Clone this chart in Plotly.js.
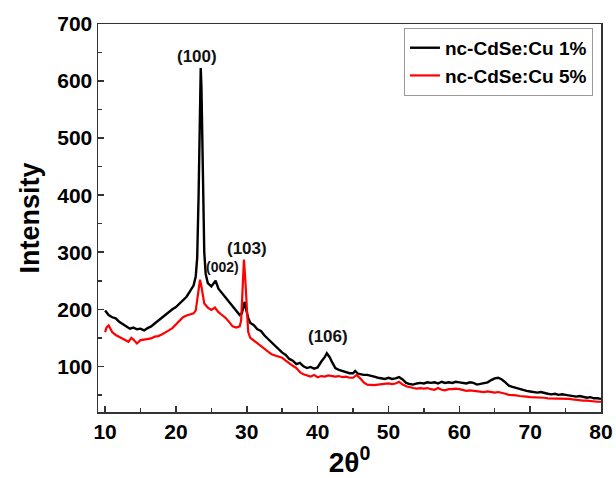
<!DOCTYPE html>
<html>
<head>
<meta charset="utf-8">
<script src="https://cdn.plot.ly/plotly-3.0.1.min.js"></script>
<style>html,body{margin:0;padding:0;background:#fff;}#chart{width:616px;height:478px;}</style>
</head>
<body>
<div id="chart"></div>
<script>
// 2theta (degrees) and intensity, nc-CdSe:Cu 1%
const cu1X = [10.0,10.5,11.0,11.5,12.0,12.5,13.0,13.5,14.0,14.5,15.0,15.5,16.0,16.5,17.0,17.5,18.0,18.5,19.0,19.5,20.0,20.5,21.0,21.5,22.0,22.5,22.8,23.0,23.2,23.4,23.5,23.6,23.8,24.0,24.2,24.5,25.0,25.3,25.6,26.0,26.5,27.0,27.5,28.0,28.5,29.0,29.3,29.5,29.7,29.9,30.2,30.5,31.0,31.5,32.0,32.5,33.0,33.5,34.0,34.5,35.0,35.5,36.0,36.5,37.0,37.5,38.0,38.5,39.0,39.5,40.0,40.5,41.0,41.3,41.7,42.1,42.5,43.0,43.5,44.0,44.5,45.0,45.3,45.7,46.0,46.5,47.0,47.5,48.0,48.5,49.0,49.5,50.0,50.5,51.0,51.5,52.0,52.5,53.0,53.5,54.0,54.5,55.0,55.5,56.0,56.5,57.0,57.5,58.0,58.5,59.0,59.5,60.0,60.5,61.0,61.5,62.0,62.5,63.0,63.5,64.0,64.5,65.0,65.5,66.0,66.5,67.0,67.5,68.0,68.5,69.0,69.5,70.0,70.5,71.0,71.5,72.0,72.5,73.0,73.5,74.0,74.5,75.0,75.5,76.0,76.5,77.0,77.5,78.0,78.5,79.0,79.5,80.0];
const cu1Y = [198,190,186,184,178,174,171,166,168,165,166,163,167,170,175,180,186,190,195,200,204,210,215,222,232,242,258,290,400,600,623,590,420,300,262,246,240,245,250,236,228,222,214,205,197,190,193,205,213,200,185,176,172,165,162,154,148,143,137,130,124,120,113,110,104,106,100,97,99,96,98,108,116,123,116,106,97,94,92,90,88,88,92,87,86,85,85,84,82,80,79,78,80,78,79,81,77,71,69,68,70,71,70,72,71,72,70,73,71,72,71,73,72,71,70,72,71,68,69,70,72,76,79,80,77,72,66,64,62,60,58,57,56,55,54,55,53,52,51,52,50,51,50,49,48,47,48,46,45,46,44,44,43];

// 2theta (degrees) and intensity, nc-CdSe:Cu 5%
const cu5X = [10.0,10.2,10.5,10.8,11.0,11.5,12.0,12.5,13.0,13.3,13.7,14.0,14.5,15.0,15.5,16.0,16.5,17.0,17.5,18.0,18.5,19.0,19.5,20.0,20.5,21.0,21.5,22.0,22.5,22.8,23.0,23.2,23.4,23.6,23.8,24.0,24.5,25.0,25.5,26.0,26.5,27.0,27.5,28.0,28.5,29.0,29.2,29.4,29.6,29.8,30.0,30.2,30.5,31.0,31.5,32.0,32.5,33.0,33.5,34.0,34.5,35.0,35.5,36.0,36.5,37.0,37.5,38.0,38.5,39.0,39.5,40.0,40.5,41.0,41.5,42.0,42.5,43.0,43.5,44.0,44.5,45.0,45.5,46.0,46.5,47.0,47.5,48.0,48.5,49.0,49.5,50.0,50.5,51.0,51.5,52.0,52.5,53.0,53.5,54.0,54.5,55.0,55.5,56.0,56.5,57.0,57.5,58.0,58.5,59.0,59.5,60.0,60.5,61.0,61.5,62.0,62.5,63.0,63.5,64.0,64.5,65.0,65.5,66.0,66.5,67.0,67.5,68.0,68.5,69.0,69.5,70.0,70.5,71.0,71.5,72.0,72.5,73.0,73.5,74.0,74.5,75.0,75.5,76.0,76.5,77.0,77.5,78.0,78.5,79.0,79.5,80.0];
const cu5Y = [160,168,172,166,160,155,152,148,146,143,150,147,140,146,147,148,149,152,153,156,159,163,167,173,180,186,189,191,193,198,215,240,252,240,220,210,203,199,203,195,190,185,178,170,168,170,180,240,287,250,190,160,150,145,141,136,130,125,121,119,117,115,110,105,101,97,90,86,84,82,85,81,83,82,84,83,82,83,81,82,80,80,85,79,72,68,67,67,68,69,70,70,69,70,73,68,65,63,62,61,62,61,62,60,59,62,59,58,60,60,61,60,58,57,58,57,56,55,55,56,55,54,55,54,52,50,50,49,48,48,47,46,46,45,45,45,44,44,44,44,43,44,43,42,41,41,40,40,39,39,38,38];

const seriesNames = ["nc-CdSe:Cu 1%", "nc-CdSe:Cu 5%"];
const peakLabels = ["(100)", "(002)", "(103)", "(106)"];
const peakX = [23.0, 26.6, 30.1, 41.5];
const peakY = [643, 274, 306, 152];

const FONT = "Arial, 'Liberation Sans', sans-serif";

const traces = [
  {x: cu1X, y: cu1Y, name: seriesNames[0], type: 'scatter', mode: 'lines',
   line: {color: '#000000', width: 2.4}},
  {x: cu5X, y: cu5Y, name: seriesNames[1], type: 'scatter', mode: 'lines',
   line: {color: '#ff0000', width: 2.2}}
];

const annotations = peakLabels.map((t, i) => ({
  x: peakX[i], y: peakY[i], xref: 'x', yref: 'y', text: t, showarrow: false,
  font: {family: FONT, size: i === 1 ? 14 : 17, weight: 'bold', color: '#111'}
}));

const layout = {
  width: 616, height: 478,
  margin: {l: 98, r: 15, t: 24, b: 66},
  paper_bgcolor: '#fff', plot_bgcolor: '#fff',
  showlegend: true,
  legend: {x: 0.984, y: 0.99, xanchor: 'right', yanchor: 'top',
    bgcolor: '#fff', bordercolor: '#999', borderwidth: 1,
    font: {family: FONT, size: 19, weight: 'bold', color: '#000'},
    tracegroupgap: 0},
  xaxis: {
    range: [9, 80], dtick: 10, tick0: 0,
    showgrid: false, zeroline: false,
    showline: true, mirror: true, linecolor: '#333', linewidth: 1.5,
    ticks: 'inside', ticklen: 6, tickwidth: 1.5, tickcolor: '#333',
    minor: {dtick: 5, ticks: 'inside', ticklen: 4, tickwidth: 1.5, tickcolor: '#333'},
    tickfont: {family: FONT, size: 21, weight: 'bold', color: '#000'},
    title: {text: '2θ<sup>0</sup>', font: {family: FONT, size: 28, weight: 'bold', color: '#000'}, standoff: 10}
  },
  yaxis: {
    range: [20, 700], dtick: 100, tick0: 0,
    showgrid: false, zeroline: false,
    showline: true, mirror: true, linecolor: '#333', linewidth: 1.5,
    ticks: 'inside', ticklen: 6, tickwidth: 1.5, tickcolor: '#333',
    minor: {dtick: 50, ticks: 'inside', ticklen: 4, tickwidth: 1.5, tickcolor: '#333'},
    tickfont: {family: FONT, size: 21, weight: 'bold', color: '#000'},
    title: {text: 'Intensity', font: {family: FONT, size: 27, weight: 'bold', color: '#000'}, standoff: 10}
  },
  annotations: annotations
};

Plotly.newPlot('chart', traces, layout, {staticPlot: true, displayModeBar: false});
</script>
</body>
</html>
